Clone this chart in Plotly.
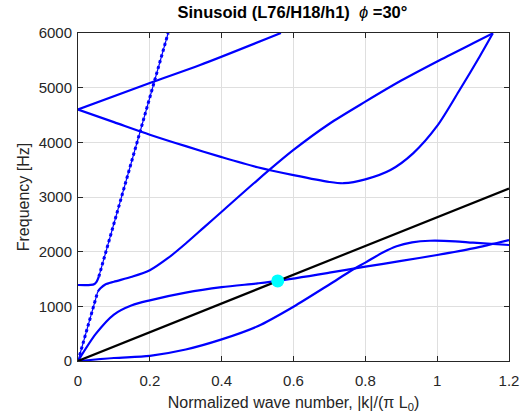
import plotly.graph_objects as go

# ---- data ----
# black reference line
line_x = [0.0, 1.2]
line_y = [0.0, 3156.0]

# branch C (through the marker)
c_x = [0, 0.05, 0.1, 0.15, 0.2, 0.3, 0.4, 0.5, 0.556, 0.7, 0.8, 0.9, 1.0, 1.1, 1.2]
c_y = [0, 500, 850, 1020, 1110, 1250, 1350, 1420, 1465, 1615, 1725, 1830, 1939, 2061, 2213]

# branch D (lower S-shaped)
d_x = [0, 0.1, 0.2, 0.3, 0.4, 0.5, 0.6, 0.7, 0.76, 0.8, 0.85, 0.887, 0.93, 0.98, 1.05, 1.1, 1.2]
d_y = [0, 55, 95, 210, 395, 635, 993, 1400, 1650, 1800, 1990, 2100, 2170, 2200, 2190, 2164, 2122]

# branch A: flat at ~1390 then steep (dotted part)
a_flat_x = [0, 0.035, 0.046, 0.052, 0.058]
a_flat_y = [1390, 1392, 1410, 1450, 1542]
a_steep_x = [0.058, 0.251]
a_steep_y = [1542, 6000]

# branch B: steep from origin (dotted) then curved up to top right
b_steep_x = [0.0, 0.055]
b_steep_y = [0.0, 1270]
b_x = [0.055, 0.0625, 0.076, 0.1, 0.15, 0.2, 0.25, 0.3, 0.35, 0.4, 0.5,
       0.6, 0.7, 0.8, 0.9, 1.0, 1.1, 1.155]
b_y = [1270, 1330, 1400, 1450, 1540, 1660, 1880, 2150, 2440, 2730, 3310,
       3860, 4340, 4744, 5130, 5480, 5812, 5994]

# branch F: rising from 4600
f_x = [0, 0.2, 0.34, 0.565]
f_y = [4600, 5085, 5414, 6000]

# branch G: descending from 4600, minimum, then rising
g_x = [0, 0.1, 0.2, 0.3, 0.4, 0.5, 0.6, 0.7, 0.74, 0.8, 0.87, 0.933, 1.0, 1.06, 1.118, 1.155]
g_y = [4600, 4370, 4140, 3930, 3730, 3545, 3400, 3275, 3252, 3323, 3494, 3799, 4300, 4930, 5566, 5994]

# marker
m_x = [0.556]
m_y = [1465]

x_ticks = [0, 0.2, 0.4, 0.6, 0.8, 1.0, 1.2]
x_tick_labels = ["0", "0.2", "0.4", "0.6", "0.8", "1", "1.2"]
y_ticks = [0, 1000, 2000, 3000, 4000, 5000, 6000]
y_tick_labels = ["0", "1000", "2000", "3000", "4000", "5000", "6000"]

BLUE = "rgb(0,0,255)"
TXT = "rgb(38,38,38)"
FONT = "Liberation Sans, Arial, Helvetica"
fig = go.Figure()

def solid(x, y, color=BLUE, w=2.2):
    fig.add_trace(go.Scatter(x=x, y=y, mode="lines",
                             line=dict(color=color, width=w, shape="spline", smoothing=0.8),
                             showlegend=False, hoverinfo="skip", cliponaxis=True))

def dotted(x, y):
    fig.add_trace(go.Scatter(x=x, y=y, mode="lines",
                             line=dict(color=BLUE, width=1.2),
                             showlegend=False, hoverinfo="skip"))
    fig.add_trace(go.Scatter(x=x, y=y, mode="lines",
                             line=dict(color=BLUE, width=3, dash="dot"),
                             showlegend=False, hoverinfo="skip"))

solid(d_x, d_y)
solid(c_x, c_y)
solid(a_flat_x, a_flat_y)
dotted(a_steep_x, a_steep_y)
dotted(b_steep_x, b_steep_y)
solid(b_x, b_y)
solid(f_x, f_y)
solid(g_x, g_y)
solid(line_x, line_y, color="black", w=2.2)

fig.add_trace(go.Scatter(x=m_x, y=m_y, mode="markers",
                         marker=dict(color="rgb(0,255,255)", size=13, line=dict(width=0)),
                         showlegend=False, hoverinfo="skip"))

axis_common = dict(showgrid=True, gridcolor="rgb(223,223,223)", gridwidth=1,
                   zeroline=False, showline=True, linecolor=TXT, linewidth=1,
                   mirror="ticks", ticks="inside", ticklen=5, tickcolor=TXT,
                   automargin=False,
                   tickfont=dict(family=FONT, size=15, color=TXT))

fig.update_xaxes(range=[0, 1.2], tickvals=x_ticks, ticktext=x_tick_labels,
                 ticklabelstandoff=6,
                 title=dict(text="Normalized wave number, |k|/(π L<sub>0</sub>)",
                            font=dict(family=FONT, size=16, color=TXT),
                            standoff=8),
                 **axis_common)
fig.update_yaxes(range=[0, 6000], tickvals=y_ticks, ticktext=y_tick_labels,
                 ticklabelstandoff=2,
                 title=dict(text="Frequency [Hz]",
                            font=dict(family=FONT, size=16, color=TXT),
                            standoff=5),
                 **axis_common)

fig.update_layout(
    width=526, height=415,
    margin=dict(l=78, r=17, t=33, b=54),
    paper_bgcolor="white", plot_bgcolor="white",
    title=dict(text="<b>Sinusoid (L76/H18/h1)</b>  <i>ϕ</i> <b>=30°</b>",
               x=0.556, xanchor="center", y=0.985, yanchor="top",
               font=dict(family=FONT, size=16.5, color="black")),
)

fig.write_html("out.html", config={"displayModeBar": False},
               post_script="document.body.style.margin='0';document.body.style.padding='0';")
